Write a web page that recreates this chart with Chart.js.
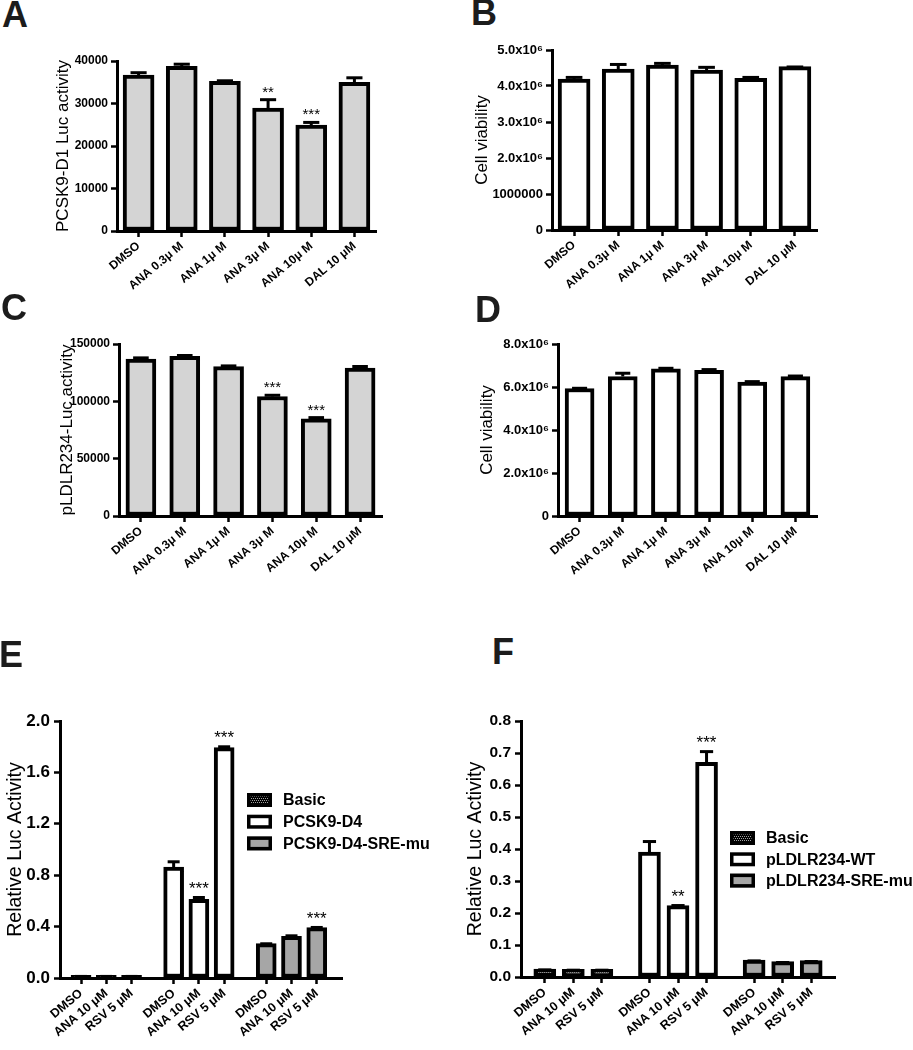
<!DOCTYPE html>
<html>
<head>
<meta charset="utf-8">
<script src="https://cdn.jsdelivr.net/npm/chart.js@4.4.0/dist/chart.umd.min.js"></script>
<style>
  html, body { margin: 0; padding: 0; background: #fff; }
  body { position: relative; width: 913px; height: 1050px; overflow: hidden; font-family: "Liberation Sans", Arial, sans-serif; }
  canvas { position: absolute; }
  .letter { position: absolute; font: bold 36px "Liberation Sans", Arial, sans-serif; line-height: 36px; color: #1c1c1c; z-index: 5; }
</style>
</head>
<body>
<div class="letter" style="left:2px;top:-3px">A</div>
<div class="letter" style="left:471px;top:-5px">B</div>
<div class="letter" style="left:1px;top:290px">C</div>
<div class="letter" style="left:475px;top:292px">D</div>
<div class="letter" style="left:-1px;top:637px">E</div>
<div class="letter" style="left:492px;top:634px">F</div>

<canvas id="cA" width="450" height="285" style="left:0;top:35px"></canvas>
<canvas id="cB" width="463" height="285" style="left:450px;top:35px"></canvas>
<canvas id="cC" width="450" height="310" style="left:0;top:320px"></canvas>
<canvas id="cD" width="463" height="310" style="left:450px;top:320px"></canvas>
<canvas id="cE" width="460" height="370" style="left:0;top:680px"></canvas>
<canvas id="cF" width="453" height="370" style="left:460px;top:680px"></canvas>

<script>
// ---------------- DATA ----------------
const doseLabels = ['DMSO', 'ANA 0.3\u03bc M', 'ANA 1\u03bc M', 'ANA 3\u03bc M', 'ANA 10\u03bc M', 'DAL 10 \u03bcM'];

// Panel A: PCSK9-D1 Luc activity
const pcsk9D1Mean = [36700, 38750, 35200, 28900, 24900, 35000];
const pcsk9D1Sem  = [900, 850, 500, 2350, 1000, 1400];
const pcsk9D1Sig  = ['', '', '', '**', '***', ''];
const yTicksA = [0, 10000, 20000, 30000, 40000];
const yTickLabelsA = ['0', '10000', '20000', '30000', '40000'];

// Panel B: cell viability
const viabilityBMean = [4.19e6, 4.47e6, 4.58e6, 4.44e6, 4.21e6, 4.54e6];
const viabilityBSem  = [0.09e6, 0.17e6, 0.09e6, 0.12e6, 0.07e6, 0.03e6];
const yTicksB = [0, 1e6, 2e6, 3e6, 4e6, 5e6];
const yTickLabelsB = ['0', '1000000', '2.0x10\u2076', '3.0x10\u2076', '4.0x10\u2076', '5.0x10\u2076'];

// Panel C: pLDLR234-Luc activity
const ldlr234Mean = [136900, 139200, 130200, 104200, 84700, 129000];
const ldlr234Sem  = [2300, 2100, 2000, 2400, 2400, 2700];
const ldlr234Sig  = ['', '', '', '***', '***', ''];
const yTicksC = [0, 50000, 100000, 150000];
const yTickLabelsC = ['0', '50000', '100000', '150000'];

// Panel D: cell viability
const viabilityDMean = [5.93e6, 6.49e6, 6.85e6, 6.77e6, 6.23e6, 6.48e6];
const viabilityDSem  = [0.08e6, 0.22e6, 0.09e6, 0.11e6, 0.09e6, 0.10e6];
const yTicksD = [0, 2e6, 4e6, 6e6, 8e6];
const yTickLabelsD = ['0', '2.0x10\u2076', '4.0x10\u2076', '6.0x10\u2076', '8.0x10\u2076'];

// Panels E / F: treatments per construct
const treatLabels = ['DMSO', 'ANA 10 \u03bcM', 'RSV 5 \u03bcM'];

// Panel E
const seriesNamesE = ['Basic', 'PCSK9-D4', 'PCSK9-D4-SRE-mu'];
const basicEMean = [0.02, 0.02, 0.02];
const basicESem  = [0.004, 0.004, 0.004];
const pcsk9D4Mean = [0.864, 0.612, 1.793];
const pcsk9D4Sem  = [0.052, 0.026, 0.018];
const pcsk9D4Sig  = ['', '***', '***'];
const pcsk9D4SreMean = [0.268, 0.325, 0.392];
const pcsk9D4SreSem  = [0.010, 0.015, 0.013];
const pcsk9D4SreSig  = ['', '', '***'];
const yTicksE = [0, 0.4, 0.8, 1.2, 1.6, 2.0];
const yTickLabelsE = ['0.0', '0.4', '0.8', '1.2', '1.6', '2.0'];

// Panel F
const seriesNamesF = ['Basic', 'pLDLR234-WT', 'pLDLR234-SRE-mu'];
const basicFMean = [0.025, 0.024, 0.024];
const basicFSem  = [0.002, 0.002, 0.002];
const ldlrWtMean = [0.390, 0.223, 0.671];
const ldlrWtSem  = [0.038, 0.005, 0.038];
const ldlrWtSig  = ['', '**', '***'];
const ldlrSreMean = [0.053, 0.048, 0.051];
const ldlrSreSem  = [0.002, 0.002, 0.002];
const yTicksF = [0, 0.1, 0.2, 0.3, 0.4, 0.5, 0.6, 0.7, 0.8];
const yTickLabelsF = ['0.0', '0.1', '0.2', '0.3', '0.4', '0.5', '0.6', '0.7', '0.8'];

// ---------------- SETUP ----------------
const FONT = '"Liberation Sans", Arial, Helvetica, sans-serif';
Chart.defaults.font.family = FONT;
Chart.defaults.color = '#000';
Chart.defaults.animation = false;
Chart.defaults.plugins.legend.display = false;
Chart.defaults.plugins.tooltip.enabled = false;

const errorBarPlugin = {
  id: 'errorBars',
  afterDatasetsDraw(chart, args, opts) {
    const ctx = chart.ctx;
    const yScale = chart.scales.y;
    chart.data.datasets.forEach((ds, di) => {
      if (!ds.errorBars) return;
      const meta = chart.getDatasetMeta(di);
      meta.data.forEach((bar, i) => {
        const v = ds.data[i];
        if (v === null || v === undefined) return;
        const e = ds.errorBars[i] || 0;
        const yTop = yScale.getPixelForValue(v);
        const yErr = yScale.getPixelForValue(v + e);
        const half = bar.width * opts.capRatio / 2;
        const lw = opts.lineWidth;
        ctx.save();
        ctx.strokeStyle = '#000';
        ctx.lineWidth = lw;
        ctx.beginPath();
        ctx.moveTo(bar.x, yTop);
        ctx.lineTo(bar.x, yErr + lw / 2);
        ctx.stroke();
        ctx.beginPath();
        ctx.moveTo(bar.x - half, yErr + lw / 2);
        ctx.lineTo(bar.x + half, yErr + lw / 2);
        ctx.stroke();
        const sig = ds.sigLabels && ds.sigLabels[i];
        if (sig) {
          ctx.fillStyle = '#000';
          ctx.font = opts.starFont;
          ctx.textAlign = 'center';
          ctx.textBaseline = 'alphabetic';
          ctx.fillText(sig, bar.x, yErr - opts.starGap);
        }
        ctx.restore();
      });
    });
  }
};

const boxLegendPlugin = {
  id: 'boxLegend',
  afterDraw(chart, args, opts) {
    if (!opts || !opts.show) return;
    const { ctx, chartArea } = chart;
    chart.data.datasets.forEach((ds, i) => {
      const x = chartArea.left + opts.dx;
      const yc = chartArea.top + opts.dy + i * opts.rowGap;
      const w = opts.boxW, h = opts.boxH, b = opts.border;
      ctx.save();
      ctx.fillStyle = ds.backgroundColor;
      ctx.fillRect(x, yc - h / 2, w, h);
      ctx.strokeStyle = '#000';
      ctx.lineWidth = b;
      ctx.strokeRect(x + b / 2, yc - h / 2 + b / 2, w - b, h - b);
      ctx.fillStyle = '#000';
      ctx.font = opts.font;
      ctx.textAlign = 'left';
      ctx.textBaseline = 'middle';
      ctx.fillText(ds.label, x + w + opts.textGap, yc + 1);
      ctx.restore();
    });
  }
};

function axisY(cfg) {
  return {
    min: 0,
    max: cfg.ticks[cfg.ticks.length - 1],
    afterBuildTicks: s => { s.ticks = cfg.ticks.map(v => ({ value: v })); },
    grid: { drawOnChartArea: false, drawTicks: true, tickLength: 6, tickWidth: 2.5, tickColor: '#000' },
    border: { display: true, color: '#000', width: 3 },
    ticks: { color: '#000', font: { weight: 'bold', size: cfg.tickSize }, padding: cfg.tickPad, callback: (v, i) => cfg.labels[i] },
    title: { display: true, text: cfg.title, color: '#000', font: { size: cfg.titleSize }, padding: { top: cfg.titlePad, bottom: 0 } },
    afterFit: s => { s.width = cfg.width; }
  };
}

function dosePanel(id, cfg) {
  return new Chart(document.getElementById(id), {
    type: 'bar',
    data: {
      labels: doseLabels,
      datasets: [{
        data: cfg.mean, errorBars: cfg.sem, sigLabels: cfg.sig,
        backgroundColor: cfg.fill, borderColor: '#000', borderWidth: 4,
        borderSkipped: false, barThickness: cfg.barW
      }]
    },
    options: {
      responsive: false, devicePixelRatio: 1,
      layout: { padding: { top: cfg.padTop, right: cfg.padRight, left: 0, bottom: 0 } },
      scales: {
        x: {
          offset: true,
          grid: { display: true, drawOnChartArea: false, drawTicks: true, tickLength: 6, tickWidth: 2.5, tickColor: '#000', offset: false },
          border: { display: true, color: '#000', width: 3 },
          ticks: { color: '#000', font: { weight: 'bold', size: 12 }, minRotation: 40, maxRotation: 40, padding: 2, autoSkip: false },
          afterFit: s => { s.height = cfg.xHeight; }
        },
        y: axisY(cfg.y)
      },
      plugins: { errorBars: { capRatio: 0.52, lineWidth: 3, starFont: '15px ' + FONT, starGap: 1.5 } }
    },
    plugins: [errorBarPlugin]
  });
}

dosePanel('cA', {
  mean: pcsk9D1Mean, sem: pcsk9D1Sem, sig: pcsk9D1Sig, fill: '#d4d4d4', barW: 31,
  padTop: 26, padRight: 74, xHeight: 89,
  y: { ticks: yTicksA, labels: yTickLabelsA, tickSize: 12, tickPad: 3, title: 'PCSK9-D1 Luc activity', titleSize: 17, titlePad: 53, width: 117 }
});
dosePanel('cB', {
  mean: viabilityBMean, sem: viabilityBSem, sig: null, fill: '#ffffff', barW: 32,
  padTop: 15, padRight: 96, xHeight: 90,
  y: { ticks: yTicksB, labels: yTickLabelsB, tickSize: 13, tickPad: 3, title: 'Cell viability', titleSize: 17, titlePad: 22, width: 102 }
});
dosePanel('cC', {
  mean: ldlr234Mean, sem: ldlr234Sem, sig: ldlr234Sig, fill: '#d4d4d4', barW: 30,
  padTop: 24, padRight: 68, xHeight: 114,
  y: { ticks: yTicksC, labels: yTickLabelsC, tickSize: 12, tickPad: 3, title: 'pLDLR234-Luc activity', titleSize: 17, titlePad: 57, width: 119 }
});
dosePanel('cD', {
  mean: viabilityDMean, sem: viabilityDSem, sig: null, fill: '#ffffff', barW: 29,
  padTop: 24, padRight: 96, xHeight: 114,
  y: { ticks: yTicksD, labels: yTickLabelsD, tickSize: 13, tickPad: 3, title: 'Cell viability', titleSize: 17, titlePad: 27, width: 108 }
});

// ---- grouped panels E/F: slots on a category axis (blank slots make the gaps) ----
function buildSlots(groupCount, labels, within, gap, lead, trail) {
  const slotLabels = [];
  const positions = [];
  for (let i = 0; i < lead; i++) slotLabels.push('');
  for (let g = 0; g < groupCount; g++) {
    for (let k = 0; k < labels.length; k++) {
      positions.push(slotLabels.length);
      slotLabels.push(labels[k]);
      if (k < labels.length - 1) for (let j = 0; j < within - 1; j++) slotLabels.push('');
    }
    if (g < groupCount - 1) for (let j = 0; j < gap - 1; j++) slotLabels.push('');
  }
  for (let i = 0; i < trail; i++) slotLabels.push('');
  return { slotLabels, positions };
}

function spread(values, group, slots) {
  const arr = new Array(slots.slotLabels.length).fill(null);
  values.forEach((v, k) => { arr[slots.positions[group * values.length + k]] = v; });
  return arr;
}

function makeDotPattern(canvasId) {
  const t = document.createElement('canvas');
  t.width = 4; t.height = 4;
  const g = t.getContext('2d');
  g.fillStyle = '#000'; g.fillRect(0, 0, 4, 4);
  g.fillStyle = '#a0a0a0';
  [[0, 0], [2, 0], [1, 2], [3, 2]].forEach(([x, y]) => g.fillRect(x, y, 1, 1));
  return document.getElementById(canvasId).getContext('2d').createPattern(t, 'repeat');
}

function groupPanel(id, cfg) {
  const slots = buildSlots(3, treatLabels, 6, 10, cfg.lead, cfg.trail);
  const fills = [makeDotPattern(id), '#ffffff', '#a6a6a6'];
  const datasets = cfg.series.map((s, gi) => ({
    label: cfg.names[gi],
    data: spread(s.mean, gi, slots),
    errorBars: spread(s.sem, gi, slots),
    sigLabels: s.sig ? spread(s.sig, gi, slots) : null,
    backgroundColor: fills[gi], borderColor: '#000', borderWidth: 4,
    borderSkipped: false, barThickness: cfg.barW, grouped: false
  }));
  return new Chart(document.getElementById(id), {
    type: 'bar',
    data: { labels: slots.slotLabels, datasets },
    options: {
      responsive: false, devicePixelRatio: 1,
      layout: { padding: { top: cfg.padTop, right: cfg.padRight, left: 0, bottom: 0 } },
      scales: {
        x: {
          offset: false,
          grid: {
            display: true, drawOnChartArea: false, drawTicks: true, tickLength: 6, tickWidth: 2.5, offset: false,
            tickColor: c => (slots.slotLabels[c.index] ? '#000' : 'rgba(0,0,0,0)')
          },
          border: { display: true, color: '#000', width: 3 },
          ticks: { color: '#000', font: { weight: 'bold', size: 12.5 }, minRotation: 40, maxRotation: 40, padding: 2, autoSkip: false },
          afterFit: s => { s.height = cfg.xHeight; }
        },
        y: axisY(cfg.y)
      },
      plugins: {
        errorBars: { capRatio: 0.6, lineWidth: 3, starFont: '17px ' + FONT, starGap: 2 },
        boxLegend: { show: true, dx: cfg.legDx, dy: cfg.legDy, rowGap: cfg.legGap, boxW: 25, boxH: 14, border: 3.5, textGap: 11, font: 'bold 16px ' + FONT }
      }
    },
    plugins: [errorBarPlugin, boxLegendPlugin]
  });
}

groupPanel('cE', {
  names: seriesNamesE,
  series: [
    { mean: basicEMean, sem: basicESem },
    { mean: pcsk9D4Mean, sem: pcsk9D4Sem, sig: pcsk9D4Sig },
    { mean: pcsk9D4SreMean, sem: pcsk9D4SreSem, sig: pcsk9D4SreSig }
  ],
  lead: 5, trail: 6, barW: 20,
  padTop: 41, padRight: 118, xHeight: 72,
  legDx: 187, legDy: 79, legGap: 21.7,
  y: { ticks: yTicksE, labels: yTickLabelsE, tickSize: 17, tickPad: 4, title: 'Relative Luc Activity', titleSize: 19.5, titlePad: 4, width: 60 }
});

groupPanel('cF', {
  names: seriesNamesF,
  series: [
    { mean: basicFMean, sem: basicFSem },
    { mean: ldlrWtMean, sem: ldlrWtSem, sig: ldlrWtSig },
    { mean: ldlrSreMean, sem: ldlrSreSem }
  ],
  lead: 5, trail: 5, barW: 22,
  padTop: 41, padRight: 78, xHeight: 73,
  legDx: 209, legDy: 117, legGap: 21.3,
  y: { ticks: yTicksF, labels: yTickLabelsF, tickSize: 15.5, tickPad: 4, title: 'Relative Luc Activity', titleSize: 19.5, titlePad: 4, width: 61 }
});
</script>
</body>
</html>
